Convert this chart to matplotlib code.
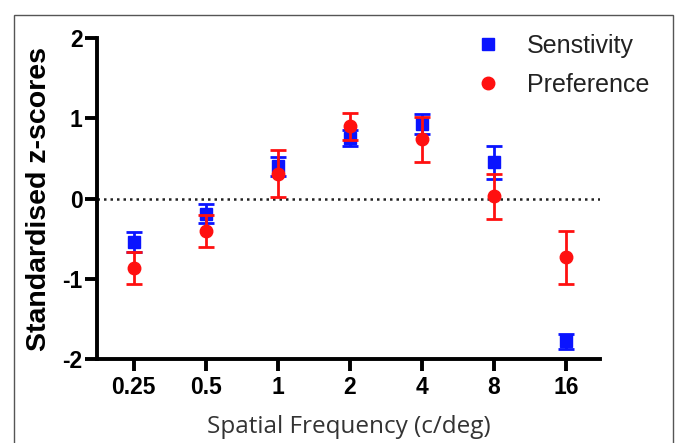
import matplotlib.pyplot as plt
from matplotlib.patches import Rectangle

# spatial frequencies (c/deg) shown as evenly spaced categories
freq_labels = ['0.25', '0.5', '1', '2', '4', '8', '16']

sens_mean = [-0.54, -0.19, 0.40, 0.75, 0.93, 0.45, -1.78]
sens_err = [0.12, 0.12, 0.12, 0.10, 0.12, 0.21, 0.09]

pref_mean = [-0.86, -0.41, 0.31, 0.90, 0.74, 0.03, -0.73]
pref_err = [0.20, 0.20, 0.29, 0.17, 0.28, 0.28, 0.33]

x = list(range(len(freq_labels)))

fig = plt.figure(figsize=(6.75, 4.43), dpi=100)
ax = fig.add_axes([0.1437, 0.1896, 0.745, 0.7244])

# grey frame around the figure
fig.patches.append(Rectangle((0.021, -0.1), 0.976, 1.066, transform=fig.transFigure,
                             fill=False, edgecolor='#555555', linewidth=1.0))

ax.axhline(0, color='#222222', linestyle=(0, (1, 1.6)), linewidth=1.8, zorder=1)

sens = ax.errorbar(x, sens_mean, yerr=sens_err, fmt='s', color='#0a14ff', markersize=8.5,
                   elinewidth=2, capsize=5.8, capthick=2, zorder=3)
pref = ax.errorbar(x, pref_mean, yerr=pref_err, fmt='o', color='#ff1010', markersize=9,
                   elinewidth=2, capsize=5.8, capthick=2, zorder=4)

ax.set_xlim(-0.51, 6.47)
ax.set_ylim(-2, 2)
ax.set_yticks([-2, -1, 0, 1, 2])
ax.set_yticklabels(['-2', '-1', '0', '1', '2'])
ax.set_xticks(x)
ax.set_xticklabels(freq_labels)

for s in ['top', 'right']:
    ax.spines[s].set_visible(False)
for s in ['left', 'bottom']:
    ax.spines[s].set_linewidth(2.8)
ax.tick_params(axis='both', direction='out', length=8.5, width=2.8, pad=2)
ax.tick_params(axis='x', pad=4)
for lab in ax.get_xticklabels() + ax.get_yticklabels():
    lab.set_fontfamily('Liberation Sans')
    lab.set_fontweight('bold')
    lab.set_fontsize(16.5)

ax.set_ylabel('Standardised z-scores', fontfamily='Liberation Sans', fontweight='bold',
              fontsize=20.5, labelpad=7)
ax.set_xlabel('Spatial Frequency (c/deg)', fontfamily='Open Sans', fontsize=17.5,
              color='#333333', labelpad=11)

leg = fig.legend([sens[0], pref[0]], ['Senstivity', 'Preference'], loc='upper left',
                 bbox_to_anchor=(0.686, 0.952), frameon=False, borderpad=0,
                 prop={'family': 'Liberation Sans', 'size': 18}, handletextpad=1.06,
                 labelspacing=0.6, handlelength=1.0)
for t in leg.get_texts():
    t.set_color('#222222')

fig.savefig('out.png', dpi=100)
